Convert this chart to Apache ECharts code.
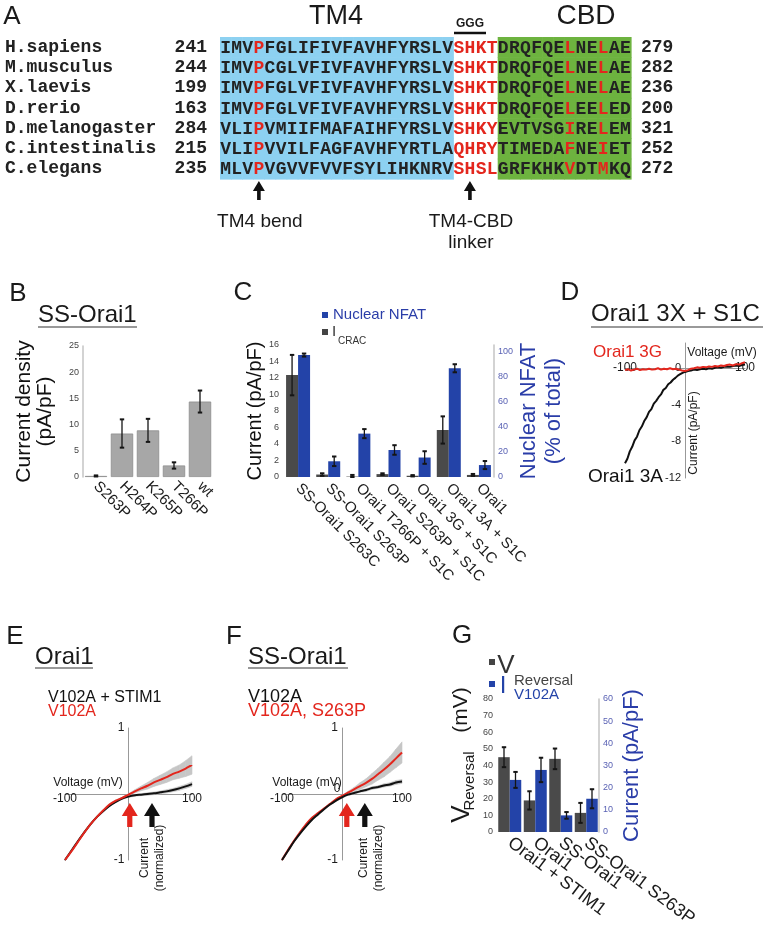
<!DOCTYPE html>
<html><head><meta charset="utf-8">
<script src="https://cdn.jsdelivr.net/npm/echarts@6/dist/echarts.min.js"></script>
<style>html,body{margin:0;padding:0;background:#fff}#c{width:769px;height:943px}</style>
</head><body><div id="c"></div>
<script>
// ---------- Panel A: alignment ----------
const species = ['H.sapiens','M.musculus','X.laevis','D.rerio','D.melanogaster','C.intestinalis','C.elegans'];
const startRes = [241,244,199,163,284,215,235];
const endRes = [279,282,236,200,321,252,272];
const tm4Seq = ['IMVPFGLIFIVFAVHFYRSLV','IMVPCGLVFIVFAVHFYRSLV','IMVPFGLVFIVFAVHFYRSLV','IMVPFGLVFIVFAVHFYRSLV','VLIPVMIIFMAFAIHFYRSLV','VLIPVVILFAGFAVHFYRTLA','MLVPVGVVFVVFSYLIHKNRV'];
const linkerSeq = ['SHKT','SHKT','SHKT','SHKT','SHKY','QHRY','SHSL'];
const cbdSeq = ['DRQFQELNELAE','DRQFQELNELAE','DRQFQELNELAE','DRQFQELEELED','EVTVSGIRELEM','TIMEDAFNEIET','GRFKHKVDTMKQ'];
const redCols = [3, 31, 34];
const arrowCols = [3, 22];
const arrowLabels = ['TM4 bend', 'TM4-CBD\nlinker'];

// ---------- Panel B ----------
const bCats = ['S263P','H264P','K265P','T266P','wt'];
const bVals = [0.2, 8.3, 8.9, 2.2, 14.4];
const bErr = [0.1, 2.7, 2.2, 0.6, 2.1];

// ---------- Panel C ----------
const cCats = ['SS-Orai1 S263C','SS-Orai1 S263P','Orai1 T266P + S1C','Orai1 S263P + S1C','Orai1 3G + S1C','Orai1 3A + S1C','Orai1'];
const cIcrac = [12.35, 0.3, 0.05, 0.35, 0.15, 5.7, 0.25];
const cIcracErr = [2.45, 0.15, 0.2, 0.1, 0.08, 1.65, 0.12];
const cNfat = [97, 12.5, 34.5, 21.5, 15.5, 86.5, 9.5];
const cNfatErr = [1.2, 3.8, 3.6, 3.8, 5.0, 3.2, 3.2];

// ---------- Panel D ----------
const d3aV = [-100,-96,-92,-88,-84,-80,-76,-72,-68,-64,-60,-56,-52,-48,-44,-40,-36,-32,-28,-24,-20,-16,-12,-8,-4,0,5,10,15,20,25,30,35,40,45,50,55,60,65,70,75,80,85,90,95,100];
const d3a = [-10.4,-9.9,-9.1,-8.6,-7.9,-7.5,-6.8,-6.4,-5.8,-5.4,-4.8,-4.5,-3.9,-3.6,-3.2,-2.9,-2.4,-2.2,-1.8,-1.6,-1.3,-1.1,-0.85,-0.7,-0.55,-0.45,-0.35,-0.3,-0.2,-0.25,-0.15,-0.1,-0.15,-0.05,-0.1,0.0,0.05,0.0,0.1,0.15,0.1,0.2,0.25,0.2,0.3,0.35];
const d3gV = [-100,-95,-90,-85,-80,-75,-70,-65,-60,-55,-50,-45,-40,-35,-30,-25,-20,-15,-10,-5,0,5,10,15,20,25,30,35,40,45,50,55,60,65,70,75,80,85,90,95,100];
const d3g = [-0.25,-0.15,-0.3,-0.2,-0.1,-0.25,-0.15,-0.2,-0.1,-0.2,-0.15,-0.05,-0.2,-0.1,-0.15,-0.05,-0.15,-0.1,-0.2,-0.3,-0.35,-0.25,-0.1,-0.05,0.05,0.0,0.1,0.05,0.15,0.1,0.2,0.15,0.25,0.2,0.3,0.35,0.25,0.4,0.35,0.5,0.6];

// ---------- Panels E / F ----------
const ivV = [-100,-90,-80,-70,-60,-50,-40,-30,-20,-10,0,10,20,30,40,50,60,70,80,90,100];
const eRed = [-1.0,-0.87,-0.73,-0.59,-0.46,-0.35,-0.25,-0.16,-0.10,-0.06,-0.01,0.04,0.085,0.125,0.175,0.215,0.255,0.305,0.34,0.385,0.44];
const eRedSem = [0.01,0.01,0.01,0.01,0.01,0.01,0.01,0.01,0.01,0.01,0.015,0.025,0.035,0.05,0.06,0.07,0.08,0.09,0.1,0.12,0.14];
const eBlack = [-1.0,-0.86,-0.72,-0.585,-0.46,-0.35,-0.26,-0.18,-0.12,-0.07,-0.04,-0.02,-0.01,0.0,0.01,0.025,0.04,0.06,0.085,0.115,0.15];
const eBlackSem = [0.01,0.01,0.01,0.01,0.01,0.01,0.01,0.01,0.01,0.01,0.01,0.015,0.015,0.02,0.02,0.02,0.025,0.025,0.03,0.03,0.035];
const eRev = [2, 37];
const fRed = [-1.0,-0.85,-0.71,-0.58,-0.46,-0.36,-0.29,-0.22,-0.15,-0.08,-0.03,0.02,0.07,0.12,0.17,0.23,0.30,0.37,0.45,0.54,0.63];
const fRedSem = [0.01,0.01,0.01,0.01,0.01,0.01,0.01,0.01,0.01,0.01,0.01,0.02,0.03,0.05,0.06,0.08,0.09,0.11,0.12,0.14,0.16];
const fBlack = [-1.0,-0.86,-0.72,-0.60,-0.49,-0.39,-0.31,-0.23,-0.16,-0.10,-0.05,-0.01,0.015,0.04,0.06,0.09,0.105,0.13,0.145,0.175,0.19];
const fBlackSem = [0.01,0.01,0.01,0.01,0.01,0.01,0.01,0.01,0.01,0.01,0.01,0.01,0.015,0.015,0.02,0.02,0.02,0.025,0.025,0.03,0.03];
const fRev = [8, 38];

// ---------- Panel G ----------
const gCats = ['Orai1 + STIM1','Orai1','SS-Orai1','SS-Orai1 S263P'];
const gVrev = [45, 19, 44, 11.5];
const gVrevErr = [6, 5.5, 6.2, 6];
const gCurrent = [23.5, 28, 7.5, 15];
const gCurrentErr = [3.6, 5.5, 1.5, 4.3];

// ---------- styles ----------
const SANS = '"Liberation Sans", Arial, Helvetica, sans-serif';
const MONO = '"Liberation Mono", "DejaVu Sans Mono", monospace';
const BLUE = '#2343a8';
const DGRAY = '#4a4a4a';
const RED = '#e3261d';
const TBLUE = '#2a3da8';
const TICKBLUE = '#5a62b4';
const CELL_BLUE = '#8dd1f1';
const CELL_GREEN = '#6db33f';
const BAND = '#c6c6c6';

const chart = echarts.init(document.getElementById('c'), null, {renderer: 'canvas'});

// alignment cells
const cells = [];
const cellInfo = [];
species.forEach((sp, r) => {
  const full = tm4Seq[r] + linkerSeq[r] + cbdSeq[r];
  for (let c = 0; c < full.length; c++) {
    cells.push([c, r]);
    const region = c < tm4Seq[r].length ? 0 : (c < tm4Seq[r].length + linkerSeq[r].length ? 1 : 2);
    const red = region === 1 || redCols.indexOf(c) >= 0;
    cellInfo.push({ch: full[c], region, red});
  }
});
const nCols = tm4Seq[0].length + linkerSeq[0].length + cbdSeq[0].length;

function errRender(offset) {
  return function (params, api) {
    const c = api.value(0);
    const lo = api.coord([c, api.value(1)]);
    const hi = api.coord([c, api.value(2)]);
    const x = lo[0] + offset;
    const cap = 2.2;
    return {type: 'group', children: [
      {type: 'line', shape: {x1: x, y1: lo[1], x2: x, y2: hi[1]}, style: {stroke: '#151515', lineWidth: 1.3}},
      {type: 'line', shape: {x1: x - cap, y1: lo[1], x2: x + cap, y2: lo[1]}, style: {stroke: '#151515', lineWidth: 2}},
      {type: 'line', shape: {x1: x - cap, y1: hi[1], x2: x + cap, y2: hi[1]}, style: {stroke: '#151515', lineWidth: 2}}
    ]};
  };
}
const errData = (vals, errs) => vals.map((v, i) => [i, Math.max(0, v - errs[i]), v + errs[i]]);

function arrowRender(colors) {
  return function (params, api) {
    const p = api.coord([api.value(0), 0]);
    const x = p[0], y = p[1];
    return {type: 'polygon', shape: {points: [[x, y + 9], [x + 8, y + 22], [x + 2.6, y + 22], [x + 2.6, y + 33], [x - 2.6, y + 33], [x - 2.6, y + 22], [x - 8, y + 22]]},
      style: {fill: colors[params.dataIndex]}};
  };
}

function pairs(xs, ys) { return xs.map((x, i) => [x, ys[i]]); }
// SEM band: one quadrilateral per segment, drawn through the axes
function bandSeries(xi, yi, xs, mean, sem) {
  const lo = mean.map((m, i) => m - sem[i]);
  const hi = mean.map((m, i) => m + sem[i]);
  return {type: 'custom', xAxisIndex: xi, yAxisIndex: yi, silent: true, z: 1,
    data: xs.map((x, i) => [x, lo[i], hi[i]]), encode: {x: 0, y: [1, 2]},
    renderItem: function (params, api) {
      const i = params.dataIndex;
      if (i >= xs.length - 1) return null;
      const a = api.coord([xs[i], lo[i]]), b = api.coord([xs[i + 1], lo[i + 1]]);
      const c = api.coord([xs[i + 1], hi[i + 1]]), d = api.coord([xs[i], hi[i]]);
      return {type: 'polygon', shape: {points: [a, b, c, d]}, style: {fill: BAND, stroke: BAND, lineWidth: 0.6}};
    }};
}

const catAxisBase = (gi, data, rot, size, margin) => ({
  type: 'category', gridIndex: gi, data,
  axisLine: {show: false}, axisTick: {show: false},
  axisLabel: {interval: 0, rotate: rot, fontSize: size, color: '#1a1a1a', fontFamily: SANS, margin}
});
const valAxisBase = (gi, min, max, interval, color, position, showLine, fmt) => ({
  type: 'value', gridIndex: gi, min, max, interval, position,
  splitLine: {show: false}, axisTick: {show: false},
  axisLine: {show: showLine, lineStyle: {color: '#c4c4c4', width: 1.5}},
  axisLabel: {fontSize: 9, color, fontFamily: SANS, margin: 4, formatter: fmt}
});

const grids = [
  {left: 220, top: 37, width: 411, height: 142},   // A
  {left: 83, top: 346, width: 130, height: 131},   // B
  {left: 283, top: 345, width: 211, height: 132},  // C
  {left: 625, top: 343, width: 120, height: 135},  // D
  {left: 65, top: 728, width: 127, height: 132},   // E
  {left: 282, top: 728, width: 120, height: 132},  // F
  {left: 497, top: 699, width: 102, height: 133}   // G
].map(g => Object.assign(g, {containLabel: false, outerBoundsMode: 'none'}));

// crossing axes: move each axis (line + labels) onto the other's zero
function crossX(gi, yMin, yMax, labelMargin) {
  const off = -grids[gi].height * (0 - yMin) / (yMax - yMin);
  return {type: 'value', gridIndex: gi, min: -100, max: 100, interval: 100, position: 'bottom', offset: off,
    splitLine: {show: false}, axisTick: {show: false},
    axisLine: {onZero: false, lineStyle: {color: '#999', width: 1}},
    axisLabel: {fontSize: 12, color: '#1a1a1a', margin: labelMargin, formatter: v => (v === 0 ? '' : v)}};
}
function crossY(gi, min, max, interval, fmt, size) {
  const off = -grids[gi].width * (0 - (-100)) / 200;
  return {type: 'value', gridIndex: gi, min, max, interval, position: 'left', offset: off,
    splitLine: {show: false}, axisTick: {show: false},
    axisLine: {onZero: false, lineStyle: {color: '#999', width: 1}},
    axisLabel: {fontSize: size || 12, color: '#1a1a1a', margin: 4, formatter: fmt}};
}

const option = {
  animation: false,
  backgroundColor: '#fff',
  textStyle: {fontFamily: SANS},
  grid: grids,
  xAxis: [
    {type: 'category', gridIndex: 0, data: Array.from({length: nCols}, (_, i) => i), show: false},
    catAxisBase(1, bCats, -45, 15, 7),
    catAxisBase(2, cCats, -45, 15, 9),
    crossX(3, -12, 2.7, -6),
    crossX(4, -1, 1, -1),
    crossX(5, -1, 1, -1),
    catAxisBase(6, gCats, -37, 18, 9)
  ],
  yAxis: [
    {type: 'category', gridIndex: 0, data: species, inverse: true, position: 'left',
      axisLine: {show: false}, axisTick: {show: false},
      axisLabel: {interval: 0, margin: 13, formatter: (v, i) => `{n|${v}}{s|${startRes[i]}}`,
        rich: {n: {width: 170, align: 'left', fontFamily: MONO, fontWeight: 'bold', fontSize: 18, color: '#222'},
               s: {width: 32, align: 'right', fontFamily: MONO, fontWeight: 'bold', fontSize: 18, color: '#222'}}}},
    {type: 'category', gridIndex: 0, data: species, inverse: true, position: 'right',
      axisLine: {show: false}, axisTick: {show: false},
      axisLabel: {interval: 0, margin: 10, formatter: (v, i) => String(endRes[i]),
        fontFamily: MONO, fontWeight: 'bold', fontSize: 18, color: '#222'}},
    Object.assign(valAxisBase(1, 0, 25, 5, '#444', 'left', true), {
      name: 'Current density\n(pA/pF)', nameLocation: 'middle', nameGap: 27,
      nameTextStyle: {fontSize: 21, color: '#111', lineHeight: 21, fontFamily: SANS}}),
    Object.assign(valAxisBase(2, 0, 16, 2, '#444', 'left', false), {
      name: 'Current (pA/pF)', nameLocation: 'middle', nameGap: 14,
      nameTextStyle: {fontSize: 20, color: '#111', fontFamily: SANS}}),
    Object.assign(valAxisBase(2, 0, 105, 20, TICKBLUE, 'right', true, v => (v <= 100 ? v : '')), {
      name: 'Nuclear NFAT\n(% of total)', nameLocation: 'middle', nameGap: 22, nameRotate: 90,
      nameTextStyle: {fontSize: 22, color: TBLUE, lineHeight: 25, fontFamily: SANS}}),
    crossY(3, -12, 2.7, 4, v => (v % 4 === 0 ? v : ''), 11),
    crossY(4, -1, 1, 1, v => (v === 0 ? '' : v)),
    crossY(5, -1, 1, 1, v => (v === 0 ? '' : v)),
    valAxisBase(6, 0, 80, 10, '#444', 'left', false),
    Object.assign(valAxisBase(6, 0, 60, 10, TICKBLUE, 'right', true), {
      name: 'Current (pA/pF)', nameLocation: 'middle', nameGap: 22, nameRotate: 90,
      nameTextStyle: {fontSize: 22, color: TBLUE, fontFamily: SANS}})
  ],
  series: [
    // A
    {type: 'custom', xAxisIndex: 0, yAxisIndex: 0, data: cells, encode: {x: 0, y: 1}, silent: true,
      renderItem: function (params, api) {
        const p = api.coord([api.value(0), api.value(1)]);
        const s = api.size([1, 1]);
        const info = cellInfo[params.dataIndex];
        const children = [];
        if (info.region !== 1) {
          children.push({type: 'rect', shape: {x: p[0] - s[0] / 2, y: p[1] - s[1] / 2, width: s[0] + 0.6, height: s[1] + 0.6},
            style: {fill: info.region === 0 ? CELL_BLUE : CELL_GREEN}});
        }
        children.push({type: 'text', style: {text: info.ch, x: p[0], y: p[1] + 1, align: 'center', verticalAlign: 'middle',
          fontFamily: MONO, fontWeight: 'bold', fontSize: 18, fill: info.red ? RED : '#222'}});
        return {type: 'group', children};
      }},
    // B
    {type: 'bar', xAxisIndex: 1, yAxisIndex: 2, data: bVals, barCategoryGap: '14%',
      itemStyle: {color: '#a7a7a7', borderColor: '#8e8e8e', borderWidth: 0.8}},
    {type: 'custom', xAxisIndex: 1, yAxisIndex: 2, data: errData(bVals, bErr), encode: {x: 0, y: [1, 2]}, renderItem: errRender(0), z: 5},
    // C
    {type: 'bar', name: 'ICRAC', xAxisIndex: 2, yAxisIndex: 3, data: cIcrac, barWidth: 12, barGap: '0%', itemStyle: {color: DGRAY}},
    {type: 'bar', name: 'Nuclear NFAT', xAxisIndex: 2, yAxisIndex: 4, data: cNfat, barWidth: 12, barGap: '0%', itemStyle: {color: BLUE}},
    {type: 'custom', xAxisIndex: 2, yAxisIndex: 3, data: errData(cIcrac, cIcracErr), encode: {x: 0, y: [1, 2]}, renderItem: errRender(-6), z: 5},
    {type: 'custom', xAxisIndex: 2, yAxisIndex: 4, data: errData(cNfat, cNfatErr), encode: {x: 0, y: [1, 2]}, renderItem: errRender(6), z: 5},
    // D
    {type: 'line', xAxisIndex: 3, yAxisIndex: 5, data: pairs(d3aV, d3a), symbol: 'none', lineStyle: {color: '#111', width: 2}},
    {type: 'line', xAxisIndex: 3, yAxisIndex: 5, data: pairs(d3gV, d3g), symbol: 'none', lineStyle: {color: RED, width: 2}},
    // E
    bandSeries(4, 6, ivV, eBlack, eBlackSem),
    bandSeries(4, 6, ivV, eRed, eRedSem),
    {type: 'line', xAxisIndex: 4, yAxisIndex: 6, data: pairs(ivV, eBlack), symbol: 'none', smooth: 0.3, lineStyle: {color: '#111', width: 2}},
    {type: 'line', xAxisIndex: 4, yAxisIndex: 6, data: pairs(ivV, eRed), symbol: 'none', smooth: 0.3, lineStyle: {color: RED, width: 2}},
    {type: 'custom', xAxisIndex: 4, yAxisIndex: 6, data: eRev.map(v => [v]), encode: {x: 0}, renderItem: arrowRender([RED, '#111']), z: 6},
    // F
    bandSeries(5, 7, ivV, fBlack, fBlackSem),
    bandSeries(5, 7, ivV, fRed, fRedSem),
    {type: 'line', xAxisIndex: 5, yAxisIndex: 7, data: pairs(ivV, fRed), symbol: 'none', smooth: 0.3, lineStyle: {color: RED, width: 2}},
    {type: 'line', xAxisIndex: 5, yAxisIndex: 7, data: pairs(ivV, fBlack), symbol: 'none', smooth: 0.3, lineStyle: {color: '#111', width: 2}},
    {type: 'custom', xAxisIndex: 5, yAxisIndex: 7, data: fRev.map(v => [v]), encode: {x: 0}, renderItem: arrowRender([RED, '#111']), z: 6},
    // G
    {type: 'bar', xAxisIndex: 6, yAxisIndex: 8, data: gVrev, barWidth: 11.5, barGap: '0%', itemStyle: {color: DGRAY}},
    {type: 'bar', xAxisIndex: 6, yAxisIndex: 9, data: gCurrent, barWidth: 11.5, barGap: '0%', itemStyle: {color: BLUE}},
    {type: 'custom', xAxisIndex: 6, yAxisIndex: 8, data: errData(gVrev, gVrevErr), encode: {x: 0, y: [1, 2]}, renderItem: errRender(-5.75), z: 5},
    {type: 'custom', xAxisIndex: 6, yAxisIndex: 9, data: errData(gCurrent, gCurrentErr), encode: {x: 0, y: [1, 2]}, renderItem: errRender(5.75), z: 5}
  ]
};
chart.setOption(option);

// ---------- annotations ----------
function T(text, x, y, size, fill, o) {
  o = o || {};
  return {type: 'text', x, y, rotation: o.rot || 0, z: 20,
    style: {text, x: 0, y: 0, fill, fontSize: size, fontFamily: o.family || SANS, fontWeight: o.weight || 'normal',
      align: o.align || 'left', verticalAlign: 'middle', lineHeight: o.lh}};
}
function L(x1, y1, x2, y2, stroke, w) { return {type: 'line', z: 20, shape: {x1, y1, x2, y2}, style: {stroke, lineWidth: w}}; }
function Rc(x, y, w, h, fill) { return {type: 'rect', z: 20, shape: {x, y, width: w, height: h}, style: {fill}}; }

const g = [];
[['A', 12, 17], ['B', 18, 294], ['C', 243, 293], ['D', 570, 293], ['E', 15, 637], ['F', 234, 637], ['G', 462, 636]]
  .forEach(([t, x, y]) => g.push(T(t, x, y, 26, '#1a1a1a', {align: 'center'})));
g.push(T('TM4', 336, 17, 27, '#1a1a1a', {align: 'center'}));
g.push(T('CBD', 586, 16, 28, '#1a1a1a', {align: 'center'}));
g.push(T('GGG', 470, 24, 12, '#1a1a1a', {align: 'center', weight: 'bold'}));
g.push(L(454, 33, 486, 33, '#111', 2.5));
arrowCols.forEach((col, i) => {
  const p = chart.convertToPixel({xAxisIndex: 0, yAxisIndex: 0}, [col, species.length - 1]);
  const x = p[0];
  g.push({type: 'polygon', z: 20, shape: {points: [[x, 181], [x + 6, 191], [x + 1.8, 191], [x + 1.8, 200], [x - 1.8, 200], [x - 1.8, 191], [x - 6, 191]]}, style: {fill: '#111'}});
  g.push(T(arrowLabels[i], x + 1, i === 0 ? 222 : 232, 19, '#1a1a1a', {align: 'center', lh: 21}));
});
g.push(T('SS-Orai1', 38, 315, 24, '#1a1a1a'));
g.push(L(38, 327, 137, 327, '#777', 1.5));
g.push(Rc(322, 312, 6, 6, BLUE));
g.push(T('Nuclear NFAT', 333, 315, 15, TBLUE));
g.push(Rc(322, 329, 6, 6, '#444'));
g.push(T('I', 332, 332, 15, '#333'));
g.push(T('CRAC', 338, 341, 10, '#333'));
g.push(T('Orai1 3X + S1C', 591, 314, 24, '#1a1a1a'));
g.push(L(591, 327, 763, 327, '#777', 1.5));
g.push(T('Orai1 3G', 593, 352, 17, RED));
g.push(T('Orai1 3A', 588, 477, 19, '#111'));
g.push(T('Voltage (mV)', 722, 353, 12, '#1a1a1a', {align: 'center'}));
g.push(T('Current (pA/pF)', 694, 433, 12, '#1a1a1a', {align: 'center', rot: Math.PI / 2}));
g.push(T('Orai1', 35, 657, 24, '#1a1a1a'));
g.push(L(35, 668, 93, 668, '#777', 1.5));
g.push(T('V102A + STIM1', 48, 698, 16, '#111'));
g.push(T('V102A', 48, 712, 16, RED));
g.push(T('Voltage (mV)', 88, 783, 12, '#1a1a1a', {align: 'center'}));
g.push(T('Current\n(normalized)', 152, 858, 12, '#1a1a1a', {align: 'center', rot: Math.PI / 2, lh: 15}));
g.push(T('SS-Orai1', 248, 657, 24, '#1a1a1a'));
g.push(L(248, 668, 348, 668, '#777', 1.5));
g.push(T('V102A', 248, 697, 18, '#111'));
g.push(T('V102A, S263P', 248, 711, 18, RED));
g.push(T('Voltage (mV)', 307, 783, 12, '#1a1a1a', {align: 'center'}));
g.push(T('0', 337, 789, 12, '#1a1a1a', {align: 'center'}));
g.push(T('Current\n(normalized)', 371, 858, 12, '#1a1a1a', {align: 'center', rot: Math.PI / 2, lh: 15}));
g.push(Rc(489, 659, 6, 6, '#444'));
g.push(T('V', 506, 666, 26, '#333', {align: 'center'}));
g.push(Rc(489, 681, 6, 6, BLUE));
g.push(T('I', 503, 686, 24, BLUE, {align: 'center'}));
g.push(T('Reversal', 514, 681, 15, '#444'));
g.push(T('V102A', 514, 695, 15, BLUE));
g.push(T('V', 462, 814, 26, '#1a1a1a', {align: 'center', rot: Math.PI / 2}));
g.push(T('Reversal', 470, 781, 15, '#1a1a1a', {align: 'center', rot: Math.PI / 2}));
g.push(T('(mV)', 461, 710, 21, '#1a1a1a', {align: 'center', rot: Math.PI / 2}));

chart.setOption({graphic: {elements: g}});
</script>
</body></html>
